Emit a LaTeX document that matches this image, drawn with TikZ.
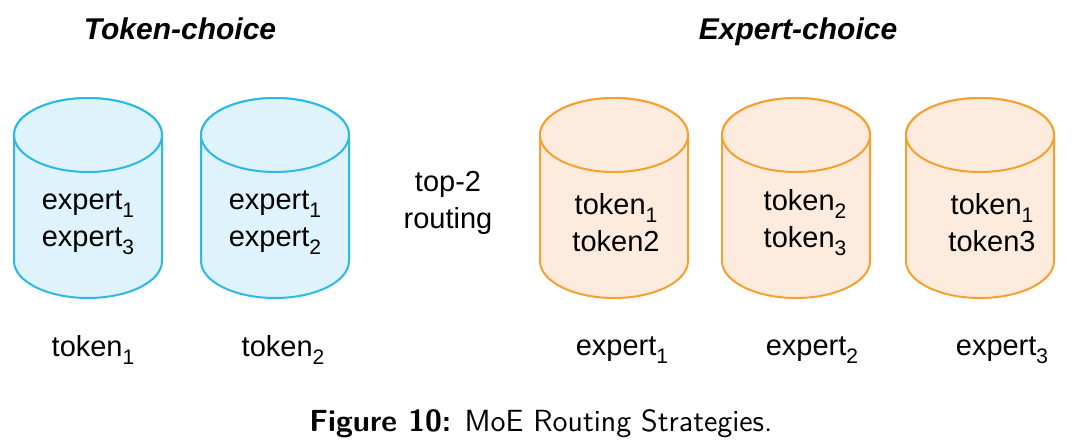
\documentclass[tikz,border=0pt]{standalone}
\usepackage{fontspec}
\setmainfont{Liberation Sans}
\usepackage{xcolor}

\definecolor{tokline}{RGB}{45,185,232}
\definecolor{tokfill}{RGB}{222,243,252}
\definecolor{expline}{RGB}{246,160,48}
\definecolor{expfill}{RGB}{253,236,221}

\newcommand{\sub}[1]{\raisebox{-4pt}{\fontsize{10.5}{10.5}\selectfont#1}}

\tikzset{
  tokcyl/.style={draw=tokline, fill=tokfill, line width=1pt},
  expcyl/.style={draw=expline, fill=expfill, line width=1pt},
  cyltext/.style={align=center, font=\fontsize{14.5}{18.5}\selectfont},
  lbl/.style={font=\fontsize{14.5}{18}\selectfont},
  heading/.style={anchor=base, font=\fontsize{15}{18}\selectfont\bfseries\itshape}
}

\begin{document}
\begin{tikzpicture}[x=0.5pt,y=-0.5pt]
  \useasboundingbox (0,0) rectangle (1080,443);
  % headings
  \node[heading] (tokhead) at (180,40) {Token-choice};
  \node[heading] (exphead) at (798,40) {Expert-choice};
  % cylinders
  \foreach \cx/\st in {88/tokcyl,275/tokcyl,614/expcyl,796/expcyl,980/expcyl}{
    \filldraw[\st] (\cx-74,135) -- (\cx-74,261)
      arc[start angle=180,end angle=0,x radius=74,y radius=37]
      -- (\cx+74,135)
      arc[start angle=0,end angle=-180,x radius=74,y radius=37] -- cycle;
    \draw[\st] (\cx,135) ellipse[x radius=74,y radius=37];
  }
  % token-choice side
  \node[cyltext] (tc1txt) at (88,223) {expert\sub{1}\\expert\sub{3}};
  \node[cyltext] (tc2txt) at (275,223) {expert\sub{1}\\expert\sub{2}};
  \node[lbl] (tok1) at (93,350) {token\sub{1}};
  \node[lbl] (tok2) at (283,350) {token\sub{2}};
  % middle
  \node[cyltext] (route) at (448,203) {top-2\\routing};
  % expert-choice side
  \node[cyltext] (ec1txt) at (616,223) {token\sub{1}\\token2};
  \node[cyltext] (ec2txt) at (805,223) {token\sub{2}\\token\sub{3}};
  \node[cyltext] (ec3txt) at (992,223) {token\sub{1}\\token3};
  \node[lbl] (exp1) at (622,350) {expert\sub{1}};
  \node[lbl] (exp2) at (812,350) {expert\sub{2}};
  \node[lbl] (exp3) at (1002,350) {expert\sub{3}};
  % caption
  \node[font=\sffamily\fontsize{15.3}{18}\selectfont] (caption) at (541,424)
    {\textbf{Figure 10:} MoE Routing Strategies.};
\end{tikzpicture}
\end{document}
